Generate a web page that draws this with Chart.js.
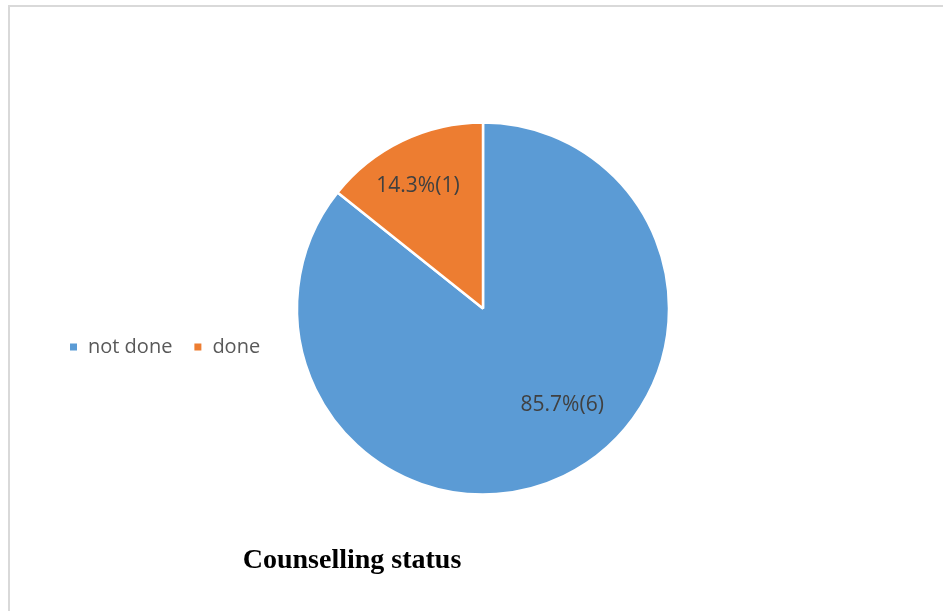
<!DOCTYPE html>
<html>
<head>
<meta charset="utf-8">
<script src="https://cdn.jsdelivr.net/npm/chart.js@4.4.1/dist/chart.umd.min.js"></script>
<style>
  html, body { margin: 0; padding: 0; background: #ffffff; }
  #wrap { position: relative; width: 943px; height: 611px; overflow: hidden; }
  #frame {
    position: absolute; left: 8px; top: 5px; width: 1000px; height: 700px;
    border-top: 2px solid #d9d9d9; border-left: 2px solid #d9d9d9;
  }
  canvas { position: absolute; left: 0; top: 0; }
  #caption {
    position: absolute; left: 152px; width: 400px; top: 541px; line-height: 36px; text-align: center;
    font-family: "Liberation Serif", "Times New Roman", serif; font-weight: bold;
    font-size: 28px; color: #000000;
  }
</style>
</head>
<body>
<div id="wrap">
  <div id="frame"></div>
  <canvas id="c" width="943" height="611"></canvas>
  <div id="caption">Counselling status</div>
</div>
<script>
// Counselling status of respondents
const categories = ['not done', 'done'];
const counts = [6, 1];
const percentLabels = ['85.7%', '14.3%'];
const sliceColors = ['#5B9BD5', '#ED7D31'];

// Value labels drawn inside each slice, e.g. "85.7%(6)"
const sliceLabels = {
  id: 'sliceLabels',
  afterDatasetsDraw(chart, args, opts) {
    const ctx = chart.ctx;
    const meta = chart.getDatasetMeta(0);
    ctx.save();
    ctx.font = opts.font;
    ctx.fillStyle = opts.color;
    ctx.textAlign = 'center';
    ctx.textBaseline = 'middle';
    meta.data.forEach((arc, i) => {
      const p = arc.getProps(['x', 'y', 'startAngle', 'endAngle', 'outerRadius'], true);
      const mid = (p.startAngle + p.endAngle) / 2 + (opts.angleShift[i] || 0);
      const r = p.outerRadius * opts.radiusFrac[i];
      const x = p.x + Math.cos(mid) * r;
      const y = p.y + Math.sin(mid) * r;
      ctx.fillText(percentLabels[i] + '(' + counts[i] + ')', x, y);
    });
    ctx.restore();
  }
};

// Horizontal legend on the left side
const sideLegend = {
  id: 'sideLegend',
  afterDraw(chart, args, opts) {
    const ctx = chart.ctx;
    ctx.save();
    ctx.font = opts.font;
    ctx.textBaseline = 'middle';
    let x = opts.x;
    categories.forEach((name, i) => {
      ctx.fillStyle = sliceColors[i];
      ctx.fillRect(x, opts.y - opts.box / 2, opts.box, opts.box);
      x += opts.box + opts.gap;
      ctx.fillStyle = opts.color;
      ctx.fillText(name, x, opts.y);
      x += ctx.measureText(name).width + opts.itemGap;
    });
    ctx.restore();
  }
};

new Chart(document.getElementById('c'), {
  type: 'pie',
  data: {
    labels: categories,
    datasets: [{
      data: counts,
      backgroundColor: sliceColors,
      borderColor: '#ffffff',
      borderWidth: 2.5
    }]
  },
  options: {
    responsive: false,
    animation: false,
    radius: 186,
    layout: { padding: { left: 40, right: 17, top: 100, bottom: 94 } },
    plugins: {
      legend: { display: false },
      tooltip: { enabled: false },
      sliceLabels: {
        font: '21px "Open Sans", sans-serif',
        color: '#404040',
        radiusFrac: [0.67, 0.745],
        angleShift: [-0.24, -0.04]
      },
      sideLegend: {
        font: '20px "Open Sans", sans-serif',
        color: '#595959',
        x: 70, y: 347, box: 7, gap: 11, itemGap: 22
      }
    }
  },
  plugins: [sliceLabels, sideLegend]
});
</script>
</body>
</html>
